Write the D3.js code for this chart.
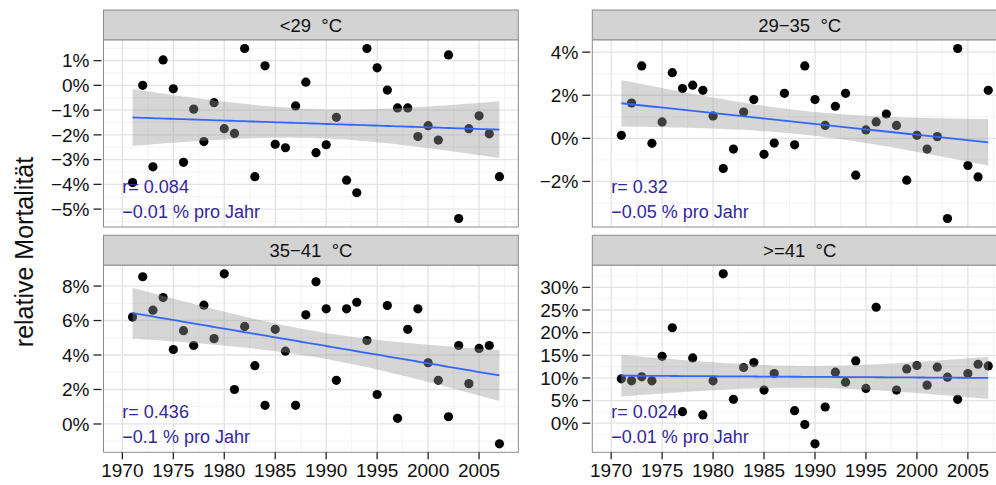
<!DOCTYPE html>
<html><head><meta charset="utf-8">
<script src="https://cdn.jsdelivr.net/npm/d3@7"></script>
<style>body{margin:0;background:#fff}svg{display:block;font-family:Arial,"Liberation Sans",sans-serif}</style>
</head><body><svg id="c" width="996" height="485"></svg>
<script>
// ---------- data ----------
const years = d3.range(1971, 2008);
const panelTitles = ["<29  °C", "29\u221235  °C", "35\u221241  °C", ">=41  °C"];
const mortLt29 = [-3.93, 0.00, -3.29, 1.03, -0.14, -3.11, -0.96, -2.27, -0.70, -1.75,
  -1.94, 1.49, -3.69, 0.79, -2.38, -2.52, -0.83, 0.13, -2.72, -2.40,
  -1.29, -3.83, -4.34, 1.49, 0.71, -0.19, -0.91, -0.91, -2.07, -1.63,
  -2.21, 1.23, -5.38, -1.75, -1.23, -1.96, -3.69];
const mort29to35 = [0.14, 1.64, 3.36, -0.23, 0.76, 3.05, 2.31, 2.47, 2.23, 1.04,
  -1.40, -0.50, 1.22, 1.80, -0.74, -0.22, 2.09, -0.30, 3.36, 1.80,
  0.60, 1.49, 2.09, -1.71, 0.39, 0.76, 1.13, 0.60, -1.94, 0.14,
  -0.50, 0.08, -3.72, 4.17, -1.26, -1.79, 2.23];
const mort35to41 = [6.20, 8.54, 6.60, 7.33, 4.32, 5.41, 4.55, 6.89, 4.95, 8.71,
  2.00, 5.66, 3.38, 1.08, 5.49, 4.22, 1.08, 6.33, 8.25, 6.68,
  2.53, 6.68, 7.06, 4.84, 1.71, 6.87, 0.33, 5.49, 6.68, 3.55,
  2.53, 0.42, 4.55, 2.34, 4.38, 4.55, -1.15];
const mortGe41 = [9.80, 9.36, 10.24, 9.36, 14.78, 21.08, 2.55, 14.41, 1.82, 9.36,
  33.0, 5.27, 12.30, 13.40, 7.31, 10.98, null, 2.77, -0.30, -4.55,
  3.58, 11.27, 9.07, 13.75, 7.69, 25.61, null, 7.31, 11.99, 12.74,
  8.41, 12.37, 10.17, 5.27, 10.98, 13.02, 12.65];
const yTicksLt29 = [-5, -4, -3, -2, -1, 0, 1];
const yTicks29to35 = [-2, 0, 2, 4];
const yTicks35to41 = [0, 2, 4, 6, 8];
const yTicksGe41 = [0, 5, 10, 15, 20, 25, 30];
const xTicks = [1970, 1975, 1980, 1985, 1990, 1995, 2000, 2005];
const xRange = [1970, 2007];
const rLabels = ["r= 0.084", "r= 0.32", "r= 0.436", "r= 0.024"];
const slopeLabels = ["\u22120.01 % pro Jahr", "\u22120.05 % pro Jahr", "\u22120.1 % pro Jahr", "\u22120.01 % pro Jahr"];
const yTitle = "relative Mortalität";

// ---------- layout ----------
const series = [mortLt29, mort29to35, mort35to41, mortGe41];
const yTicksAll = [yTicksLt29, yTicks29to35, yTicks35to41, yTicksGe41];
const colX = [103.5, 592.3], rowY = [40, 265.3];
const PW = 414.8, PH = 187, STRIP = 30;
const svg = d3.select("#c");
const fmtPct = v => (v < 0 ? "\u2212" + Math.abs(v) : String(v)) + "%";

function expand(lo, hi) { const d = (hi - lo) * 0.05; return [lo - d, hi + d]; }
function tQuant(df) {
  const z = 1.959964;
  return z + (z ** 3 + z) / (4 * df) + (5 * z ** 5 + 16 * z ** 3 + 3 * z) / (96 * df * df);
}

series.forEach((vals, i) => {
  const x0 = colX[i % 2], y0 = rowY[Math.floor(i / 2)];
  const pts = years.map((yr, k) => ({ x: yr, y: vals[k] })).filter(d => d.y != null);
  const x = d3.scaleLinear().domain(expand(xRange[0], xRange[1])).range([x0, x0 + PW]);
  const ext = d3.extent(pts, d => d.y);
  const y = d3.scaleLinear().domain(expand(ext[0], ext[1])).range([y0 + PH, y0]);
  const g = svg.append("g");

  // strip
  g.append("rect").attr("x", x0).attr("y", y0 - STRIP).attr("width", PW).attr("height", STRIP)
    .attr("fill", "#d3d3d3").attr("stroke", "#8c8c8c").attr("stroke-width", 1);
  g.append("text").attr("x", x0 + PW / 2).attr("y", y0 - STRIP / 2).attr("dy", "0.36em")
    .attr("text-anchor", "middle").style("white-space", "pre").attr("font-size", 18.5).attr("fill", "#111")
    .text(panelTitles[i]);

  // panel background
  g.append("rect").attr("x", x0).attr("y", y0).attr("width", PW).attr("height", PH).attr("fill", "#fff");

  // grids
  const yt = yTicksAll[i];
  const ystep = yt[1] - yt[0];
  const yMinor = d3.range(yt[0] - ystep / 2, yt[yt.length - 1] + ystep, ystep)
    .filter(v => v > y.domain()[0] && v < y.domain()[1]);
  const xMinor = d3.range(xTicks[0] - 2.5, xTicks[xTicks.length - 1] + 5, 5)
    .filter(v => v > x.domain()[0] && v < x.domain()[1]);
  g.selectAll(".ym").data(yMinor).join("line").attr("x1", x0).attr("x2", x0 + PW)
    .attr("y1", d => y(d)).attr("y2", d => y(d)).attr("stroke", "#f0f0f0").attr("stroke-width", 0.8);
  g.selectAll(".xm").data(xMinor).join("line").attr("y1", y0).attr("y2", y0 + PH)
    .attr("x1", d => x(d)).attr("x2", d => x(d)).attr("stroke", "#f0f0f0").attr("stroke-width", 0.8);
  g.selectAll(".yM").data(yt).join("line").attr("x1", x0).attr("x2", x0 + PW)
    .attr("y1", d => y(d)).attr("y2", d => y(d)).attr("stroke", "#e3e3e3").attr("stroke-width", 1.3);
  g.selectAll(".xM").data(xTicks).join("line").attr("y1", y0).attr("y2", y0 + PH)
    .attr("x1", d => x(d)).attr("x2", d => x(d)).attr("stroke", "#e3e3e3").attr("stroke-width", 1.3);

  // points
  g.selectAll(".pt").data(pts).join("circle").attr("cx", d => x(d.x)).attr("cy", d => y(d.y))
    .attr("r", 4.6).attr("fill", "#000");

  // linear fit with 95% CI
  const n = pts.length, mx = d3.mean(pts, d => d.x), my = d3.mean(pts, d => d.y);
  const sxx = d3.sum(pts, d => (d.x - mx) ** 2);
  const b = d3.sum(pts, d => (d.x - mx) * (d.y - my)) / sxx, a = my - b * mx;
  const s = Math.sqrt(d3.sum(pts, d => (d.y - a - b * d.x) ** 2) / (n - 2));
  const tq = tQuant(n - 2);
  const xe = d3.extent(pts, d => d.x);
  const grid = d3.range(0, 80).map(k => xe[0] + (xe[1] - xe[0]) * k / 79);
  const fit = grid.map(xx => {
    const f = a + b * xx, se = s * Math.sqrt(1 / n + (xx - mx) ** 2 / sxx);
    return { x: xx, f, lo: f - tq * se, hi: f + tq * se };
  });
  g.append("path").datum(fit)
    .attr("d", d3.area().x(d => x(d.x)).y0(d => y(d.lo)).y1(d => y(d.hi)))
    .attr("fill", "#999999").attr("fill-opacity", 0.4);
  g.append("path").datum(fit)
    .attr("d", d3.line().x(d => x(d.x)).y(d => y(d.f)))
    .attr("fill", "none").attr("stroke", "#3366FF").attr("stroke-width", 1.8);

  // annotations
  g.append("text").attr("x", x(1970)).attr("y", y0 + PH - 34).attr("font-size", 18)
    .attr("fill", "#33289a").text(rLabels[i]);
  g.append("text").attr("x", x(1970)).attr("y", y0 + PH - 9).attr("font-size", 18)
    .attr("fill", "#33289a").text(slopeLabels[i]);

  // border
  g.append("rect").attr("x", x0).attr("y", y0).attr("width", PW).attr("height", PH)
    .attr("fill", "none").attr("stroke", "#8c8c8c").attr("stroke-width", 1);

  // y axis
  const ya = g.append("g");
  ya.selectAll("line").data(yt).join("line").attr("x1", x0 - 10).attr("x2", x0 - 2)
    .attr("y1", d => y(d)).attr("y2", d => y(d)).attr("stroke", "#222").attr("stroke-width", 1.3);
  ya.selectAll("text").data(yt).join("text").attr("x", x0 - 14).attr("y", d => y(d)).attr("dy", "0.36em")
    .attr("text-anchor", "end").attr("font-size", 19).attr("fill", "#111").text(fmtPct);

  // x axis (bottom row only)
  if (i >= 2) {
    const xa = g.append("g");
    xa.selectAll("line").data(xTicks).join("line").attr("y1", y0 + PH).attr("y2", y0 + PH + 7)
      .attr("x1", d => x(d)).attr("x2", d => x(d)).attr("stroke", "#222").attr("stroke-width", 1.3);
    xa.selectAll("text").data(xTicks).join("text").attr("x", d => x(d)).attr("y", y0 + PH + 25)
      .attr("text-anchor", "middle").attr("font-size", 19).attr("fill", "#111").text(d => d);
  }
});

svg.append("text").attr("transform", "translate(33,252) rotate(-90)").attr("text-anchor", "middle")
  .attr("font-size", 25).attr("fill", "#111").text(yTitle);
</script></body></html>
